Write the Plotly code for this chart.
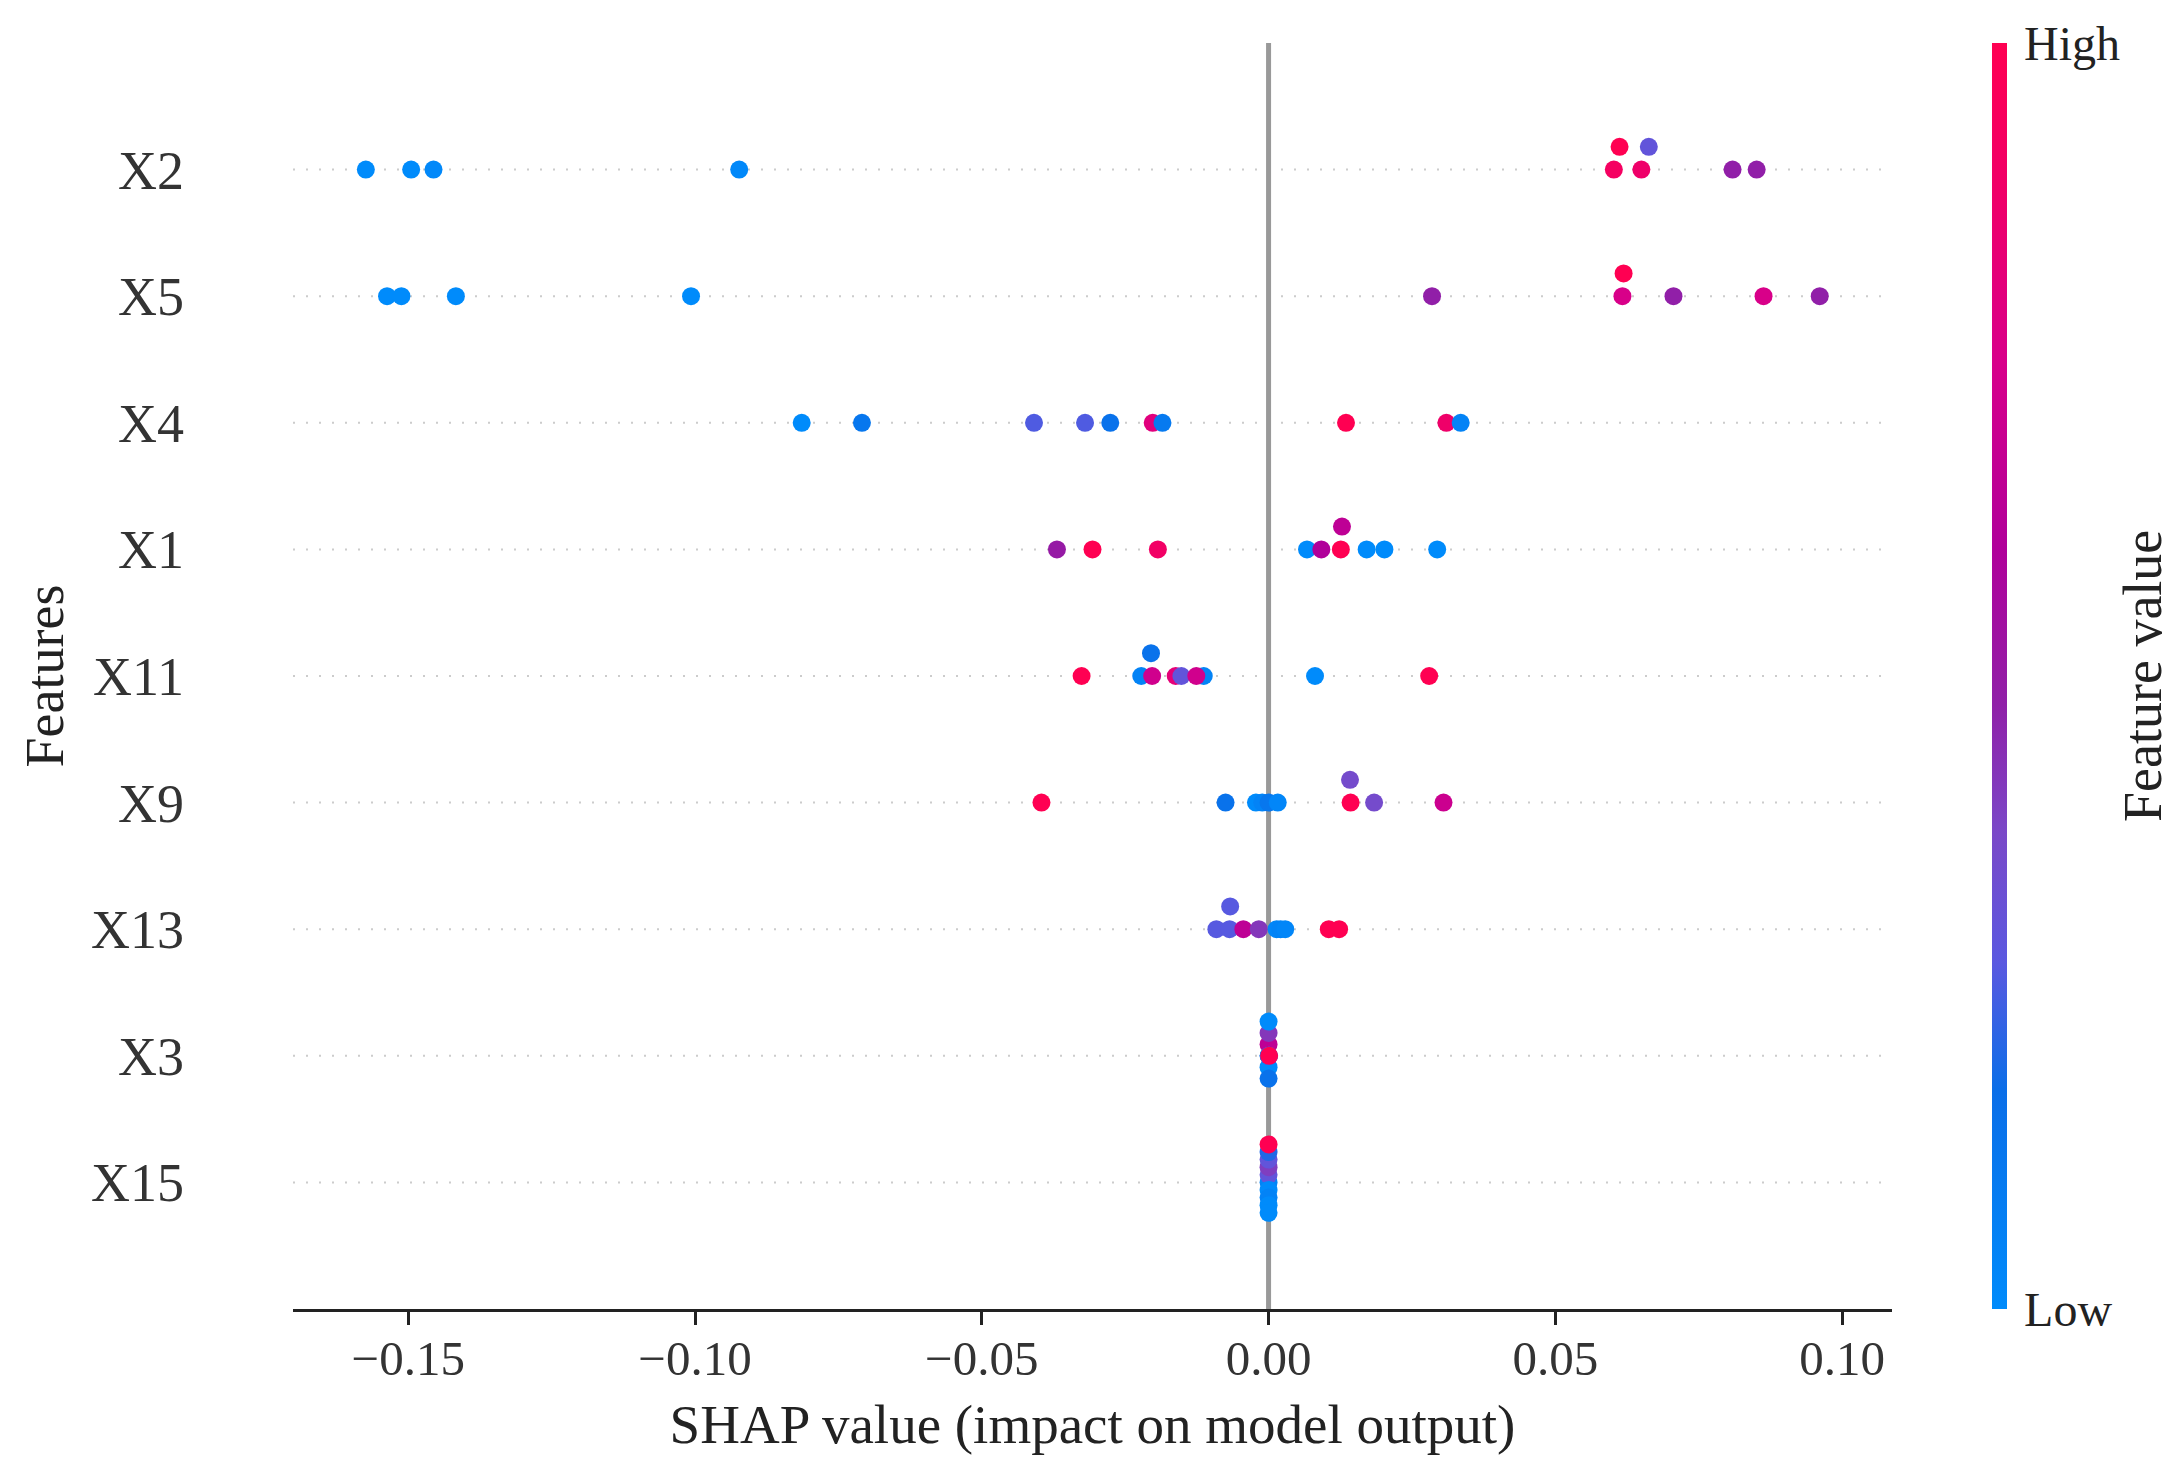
import numpy as np
import plotly.graph_objects as go

# features from bottom row to top row
features = ["X15", "X3", "X13", "X9", "X11", "X1", "X4", "X5", "X2"]

# SHAP values per feature (one value per sample, 10 samples)
shap_x2 = [-0.1574, -0.1495, -0.1456, -0.0923, 0.0602, 0.0612, 0.0650, 0.0663, 0.0809, 0.0851]
shap_x5 = [-0.1537, -0.1512, -0.1417, -0.1007, 0.0285, 0.0617, 0.0619, 0.0706, 0.0863, 0.0961]
shap_x4 = [-0.0814, -0.0709, -0.0409, -0.0320, -0.0276, -0.0202, -0.0185, 0.0135, 0.0310, 0.0335]
shap_x1 = [-0.0369, -0.0307, -0.0193, 0.0067, 0.0092, 0.0126, 0.0128, 0.0171, 0.0202, 0.0294]
shap_x11 = [-0.0326, -0.0222, -0.0203, -0.0205, -0.0113, -0.0162, -0.0152, -0.0126, 0.0081, 0.0280]
shap_x9 = [-0.0396, -0.0075, -0.0022, -0.0011, 0.0000, 0.0016, 0.0143, 0.0142, 0.0184, 0.0305]
shap_x13 = [-0.0091, -0.0068, -0.0067, -0.0044, -0.0017, 0.0014, 0.0021, 0.0029, 0.0105, 0.0123]
shap_x3 = [0.0, 0.0, 0.0, 0.0, 0.0, 0.0, 0.00002, 0.00004, 0.00006, 0.0001]
shap_x15 = [0.0, 0.0, 0.0, 0.0, 0.0, 0.0, 0.0, 0.0, 0.0, 0.0]

# normalised feature values (0 = low, 1 = high)
fval_x2 = [0.0, 0.0, 0.02, 0.02, 0.92, 1.0, 0.88, 0.3, 0.48, 0.48]
fval_x5 = [0.0, 0.0, 0.0, 0.0, 0.48, 0.75, 1.0, 0.48, 0.75, 0.48]
fval_x4 = [0.0, 0.12, 0.26, 0.26, 0.15, 0.8, 0.1, 1.0, 0.88, 0.05]
fval_x1 = [0.5, 1.0, 0.9, 0.0, 0.6, 1.0, 0.65, 0.0, 0.0, 0.0]
fval_x11 = [1.0, 0.05, 0.72, 0.15, 0.05, 0.82, 0.3, 0.72, 0.0, 1.0]
fval_x9 = [1.0, 0.15, 0.0, 0.05, 0.12, 0.03, 1.0, 0.36, 0.36, 0.7]
fval_x13 = [0.27, 0.27, 0.27, 0.65, 0.42, 0.03, 0.05, 0.03, 1.0, 1.0]
fval_x3 = [0.05, 0.65, 0.0, 0.42, 0.15, 0.0, 0.1, 0.4, 0.0, 1.0]
fval_x15 = [0.05, 0.3, 0.0, 0.4, 0.05, 0.3, 0.0, 0.2, 0.0, 1.0]

shap_rows = [shap_x15, shap_x3, shap_x13, shap_x9, shap_x11, shap_x1, shap_x4, shap_x5, shap_x2]
fval_rows = [fval_x15, fval_x3, fval_x13, fval_x9, fval_x11, fval_x1, fval_x4, fval_x5, fval_x2]

x_ticks = [-0.15, -0.10, -0.05, 0.0, 0.05, 0.10]

red_blue = [
    [0.0, "#008bfb"], [0.173, "#0a6ee8"], [0.274, "#5a58e0"], [0.376, "#7a48c8"],
    [0.477, "#9020a8"], [0.60, "#b0009a"], [0.748, "#d8008a"], [0.883, "#f00068"],
    [1.0, "#ff0052"],
]

FONT = "Times New Roman, Liberation Serif, serif"


def dodge(vals, row_height=0.4, nbins=100):
    # same layering as shap's beeswarm summary plot
    vals = np.asarray(vals, dtype=float)
    quant = np.round(nbins * (vals - vals.min()) / (vals.max() - vals.min() + 1e-8))
    order = np.argsort(quant, kind="stable")
    ys = np.zeros(len(vals))
    layer, last = 0, None
    for i in order:
        if quant[i] != last:
            layer = 0
        ys[i] = np.ceil(layer / 2) * ((layer % 2) * 2 - 1)
        layer += 1
        last = quant[i]
    ys *= 0.9 * (row_height / np.max(ys + 1))
    return ys


xs, ys, cs = [], [], []
for pos, (sv, fv) in enumerate(zip(shap_rows, fval_rows)):
    xs.extend(sv)
    ys.extend(pos + dodge(sv))
    cs.extend(fv)

fig = go.Figure()

fig.add_trace(go.Scatter(
    x=xs, y=ys, mode="markers",
    marker=dict(
        size=18, color=cs, colorscale=red_blue, cmin=0, cmax=1,
        line_width=0,
        showscale=True,
        colorbar=dict(
            x=1.0625, xanchor="left", xpad=0, y=0.5, yanchor="middle", ypad=0,
            len=1, thickness=15, outlinewidth=0,
            tickvals=[0, 1], ticktext=["Low", "High"],
            ticks="outside", ticklen=8, tickcolor="rgba(0,0,0,0)",
            tickfont=dict(family=FONT, size=48, color="#222222"),
        ),
    ),
    showlegend=False, hoverinfo="x",
))

# dotted row guides and the zero line
for pos in range(len(features)):
    fig.add_shape(type="line", xref="x domain", x0=0, x1=1, y0=pos, y1=pos,
                  line=dict(color="#cccccc", width=2, dash="2px,11px"), layer="below")
fig.add_shape(type="line", x0=0, x1=0, yref="y domain", y0=0, y1=1,
              line=dict(color="#999999", width=5), layer="below")

# colorbar label
fig.add_annotation(text="Feature value", xref="paper", yref="paper", x=1.157, y=0.5,
                   xanchor="center", yanchor="middle", textangle=-90, showarrow=False,
                   font=dict(family=FONT, size=54, color="#222222"))

fig.update_layout(
    width=2178, height=1471,
    margin=dict(l=293, r=286, t=43, b=162),
    plot_bgcolor="white", paper_bgcolor="white",
    font=dict(family=FONT, color="#222222"),
    xaxis=dict(
        range=[-0.1701, 0.1087], tickvals=x_ticks, tickformat=".2f",
        showgrid=False, zeroline=False,
        showline=True, linecolor="#222222", linewidth=3,
        ticks="outside", ticklen=13, tickwidth=3, tickcolor="#222222",
        ticklabelstandoff=-9,
        tickfont=dict(size=49, color="#333333"),
        title=dict(text="SHAP value (impact on model output)", standoff=20,
                   font=dict(size=55, color="#222222")),
    ),
    yaxis=dict(
        range=[-1, len(features)], tickvals=list(range(len(features))), ticktext=features,
        showgrid=False, zeroline=False, showline=False, ticks="",
        ticklabelstandoff=108,
        tickfont=dict(size=54, color="#333333"),
        title=dict(text="Features", standoff=10,
                   font=dict(size=54, color="#222222")),
    ),
)

fig.write_html("out.html", config={"displayModeBar": False},
               post_script="document.body.style.margin='0';")
